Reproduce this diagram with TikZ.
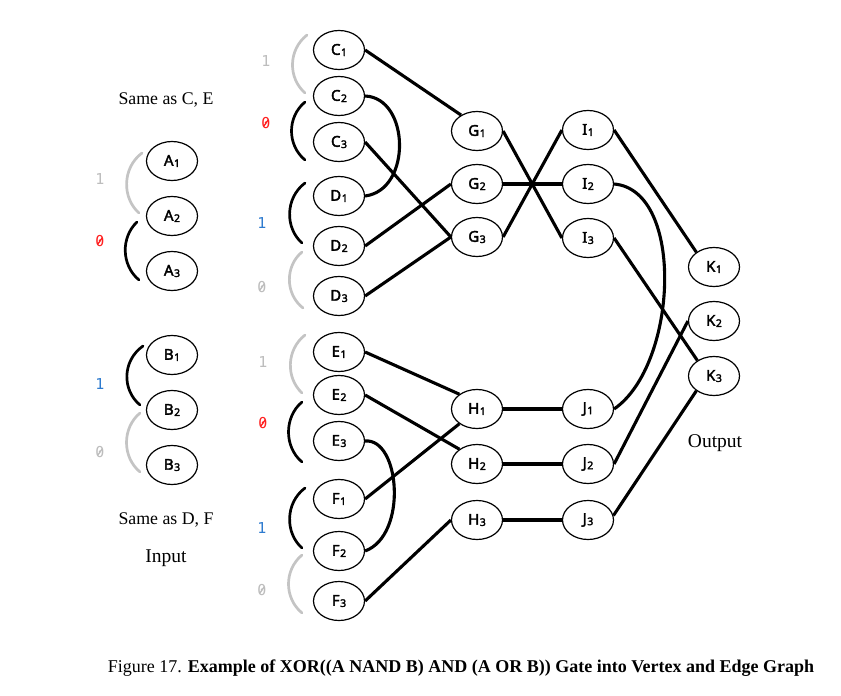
\documentclass[tikz,border=0pt]{standalone}
\usepackage{fontspec}
\setmainfont{Liberation Serif}
\newfontfamily\lblfont{Noto Sans}[FakeBold=2.4]
\newfontfamily\bitfont{DejaVu Sans Mono}
\usetikzlibrary{shapes.geometric}
\definecolor{bitgray}{HTML}{BDBDBD}
\definecolor{bitred}{HTML}{FF2020}
\definecolor{bitblue}{HTML}{2E7BCF}
\definecolor{arcgray}{HTML}{C4C4C4}
\newcommand{\vsub}[1]{\kern0.5pt\raisebox{-1.2pt}{\fontsize{10.5}{10.5}\selectfont #1}}
\begin{document}
\begin{tikzpicture}[x=1pt,y=-1pt,
  vertex/.style={ellipse, draw, line width=1.2pt, minimum width=51pt, minimum height=39pt, inner sep=0pt, font=\lblfont\fontsize{15}{15}\selectfont},
  conn/.style={line width=3.1pt},
  brk/.style={line width=2.7pt, line cap=round},
  graybrk/.style={brk, draw=arcgray},
  bit/.style={font=\bitfont\fontsize{15}{15}\selectfont, inner sep=1pt},
  zslash/.style={line width=1.3pt},
  lbl/.style={font=\fontsize{17.8}{17.8}\selectfont},
  big/.style={font=\fontsize{19.5}{19.5}\selectfont}]
\useasboundingbox[fill=white] (0,0) rectangle (841,696);

% vertices
\node[vertex] (A1) at (172,161) {A\vsub{1}};
\node[vertex] (A2) at (172,216) {A\vsub{2}};
\node[vertex] (A3) at (172,271) {A\vsub{3}};
\node[vertex] (B1) at (172,355) {B\vsub{1}};
\node[vertex] (B2) at (172,410) {B\vsub{2}};
\node[vertex] (B3) at (172,465) {B\vsub{3}};
\node[vertex] (C1) at (339,50) {C\vsub{1}};
\node[vertex] (C2) at (339,96) {C\vsub{2}};
\node[vertex] (C3) at (339,142) {C\vsub{3}};
\node[vertex] (D1) at (339,196) {D\vsub{1}};
\node[vertex] (D2) at (339,246) {D\vsub{2}};
\node[vertex] (D3) at (339,296) {D\vsub{3}};
\node[vertex] (E1) at (339,352) {E\vsub{1}};
\node[vertex] (E2) at (339,395) {E\vsub{2}};
\node[vertex] (E3) at (339,441) {E\vsub{3}};
\node[vertex] (F1) at (339,499) {F\vsub{1}};
\node[vertex] (F2) at (339,551) {F\vsub{2}};
\node[vertex] (F3) at (339,601) {F\vsub{3}};
\node[vertex] (G1) at (477,131) {G\vsub{1}};
\node[vertex] (G2) at (477,184) {G\vsub{2}};
\node[vertex] (G3) at (477,237) {G\vsub{3}};
\node[vertex] (I1) at (588,130) {I\vsub{1}};
\node[vertex] (I2) at (588,184) {I\vsub{2}};
\node[vertex] (I3) at (588,238) {I\vsub{3}};
\node[vertex] (H1) at (477,409) {H\vsub{1}};
\node[vertex] (H2) at (477,464) {H\vsub{2}};
\node[vertex] (H3) at (477,520) {H\vsub{3}};
\node[vertex] (J1) at (588,409) {J\vsub{1}};
\node[vertex] (J2) at (588,464) {J\vsub{2}};
\node[vertex] (J3) at (588,520) {J\vsub{3}};
\node[vertex] (K1) at (714,267) {K\vsub{1}};
\node[vertex] (K2) at (714,321) {K\vsub{2}};
\node[vertex] (K3) at (714,376) {K\vsub{3}};

% brackets
\draw[graybrk] (142,153) .. controls (122,168) and (122,198) .. (139,213);
\draw[brk] (137,222) .. controls (121,237) and (121,265) .. (139,280);
\draw[brk] (143,346) .. controls (122,361) and (122,390) .. (140,405);
\draw[graybrk] (140,413) .. controls (122,428) and (122,457) .. (140,472);
\draw[graybrk] (307,35) .. controls (288,50) and (288,78) .. (305,93);
\draw[brk] (305,102) .. controls (287,117) and (287,145) .. (305,160);
\draw[brk] (305,183) .. controls (285,198) and (285,228) .. (302,243);
\draw[graybrk] (302,252) .. controls (285,266) and (285,294) .. (303,308);
\draw[graybrk] (305,335) .. controls (286,350) and (286,378) .. (302,393);
\draw[brk] (302,402) .. controls (284,417) and (284,447) .. (302,462);
\draw[brk] (305,488) .. controls (285,503) and (285,533) .. (302,548);
\draw[graybrk] (302,555) .. controls (284,570) and (284,598) .. (302,613);

% bit labels
\node[bit, text=bitgray] (bA1) at (100,179) {1};
\node[bit, text=bitred] (bA0) at (100,241) {0};
\node[bit, text=bitblue] (bB1) at (100,384) {1};
\node[bit, text=bitgray] (bB0) at (100,452) {0};
\node[bit, text=bitgray] (bC1) at (266,61) {1};
\node[bit, text=bitred] (bC0) at (266,123) {0};
\node[bit, text=bitblue] (bD1) at (262,223) {1};
\node[bit, text=bitgray] (bD0) at (262,287) {0};
\node[bit, text=bitgray] (bE1) at (263,362) {1};
\node[bit, text=bitred] (bE0) at (263,423) {0};
\node[bit, text=bitblue] (bF1) at (262,528) {1};
\node[bit, text=bitgray] (bF0) at (262,590) {0};
% slashes of the zeros
\foreach \z/\c in {bA0/bitred, bB0/bitgray, bC0/bitred, bD0/bitgray, bE0/bitred, bF0/bitgray}
  \draw[zslash, draw=\c] ([shift={(-2.2,3.2)}]\z.center) -- ([shift={(2.2,-3.2)}]\z.center);

% connectors
\draw[conn] (C1.east) -- (G1.135);
\draw[conn] (C2.east) .. controls (410,98) and (412,190) .. (D1.east);
\draw[conn] (C3.east) -- (G3.west);
\draw[conn] (D2.east) -- (G2.west);
\draw[conn] (D3.east) -- (G3.west);
\draw[conn] (G1.east) -- (I3.west);
\draw[conn] (G2.east) -- (I2.west);
\draw[conn] (G3.east) -- (I1.west);
\draw[conn] (I1.east) -- (K1.140);
\draw[conn] (I2.east) .. controls (685,190) and (678,365) .. (J1.east);
\draw[conn] (I3.east) -- (K3.137);
\draw[conn] (J2.east) -- (K2.west);
\draw[conn] (J3.10) -- (K3.220);
\draw[conn] (E1.east) -- (H1.140);
\draw[conn] (E2.east) -- (H2.140);
\draw[conn] (E3.east) .. controls (400,438) and (408,535) .. (F2.east);
\draw[conn] (F1.east) -- (H1.220);
\draw[conn] (F3.east) -- (H3.west);
\draw[conn] (H1) -- (J1);
\draw[conn] (H2) -- (J2);
\draw[conn] (H3) -- (J3);

% texts
\node[lbl] (t1) at (166,100) {Same as C, E};
\node[lbl] (t2) at (166,520) {Same as D, F};
\node[big] (t3) at (166,558) {Input};
\node[big] (t4) at (715,443) {Output};
\node[font=\fontsize{18}{18}\selectfont] (cap) at (461,668) {Figure 17. \textbf{Example of XOR((A NAND B) AND (A OR B)) Gate into Vertex and Edge Graph}};
\end{tikzpicture}
\end{document}
